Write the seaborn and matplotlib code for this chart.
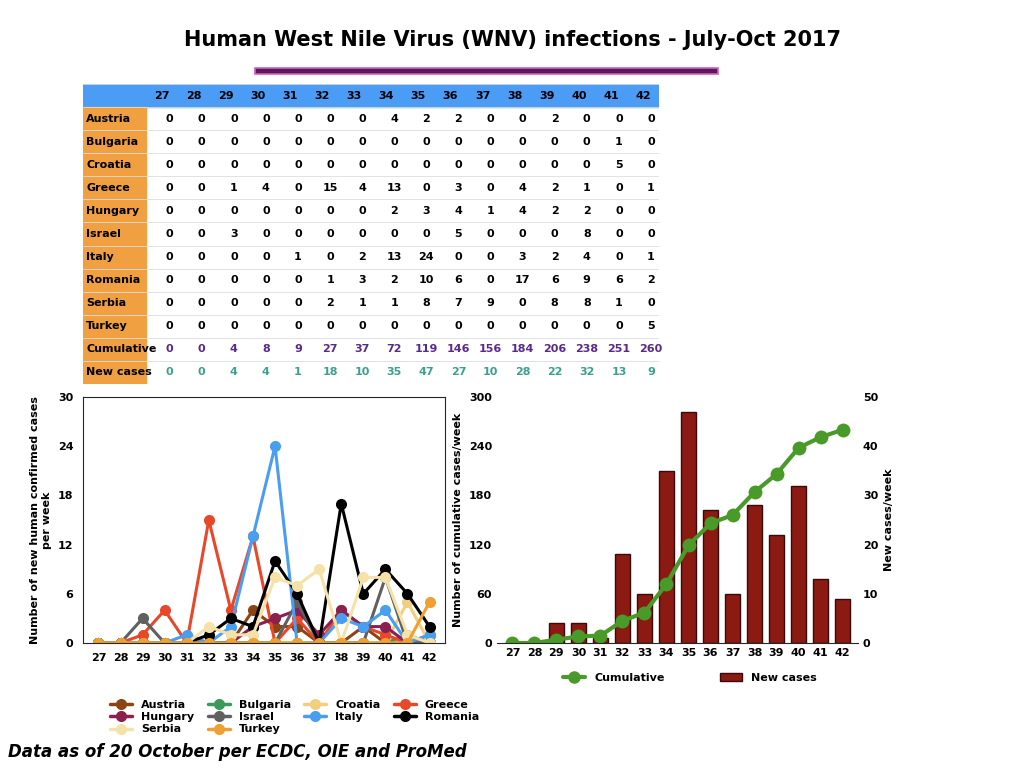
import numpy as np
import pandas as pd
import seaborn as sns
import matplotlib.pyplot as plt
from matplotlib.patches import Rectangle
from matplotlib.lines import Line2D

sns.set_style('white')
plt.rcParams['font.family'] = ['DejaVu Sans']
plt.rcParams['text.color'] = 'black'
plt.rcParams['axes.labelcolor'] = 'black'
plt.rcParams['xtick.color'] = 'black'
plt.rcParams['ytick.color'] = 'black'

weeks = [27, 28, 29, 30, 31, 32, 33, 34, 35, 36, 37, 38, 39, 40, 41, 42]
countries = ['Austria', 'Bulgaria', 'Croatia', 'Greece', 'Hungary', 'Israel',
             'Italy', 'Romania', 'Serbia', 'Turkey']
austria = [0, 0, 0, 0, 0, 0, 0, 4, 2, 2, 0, 0, 2, 0, 0, 0]
bulgaria = [0, 0, 0, 0, 0, 0, 0, 0, 0, 0, 0, 0, 0, 0, 1, 0]
croatia = [0, 0, 0, 0, 0, 0, 0, 0, 0, 0, 0, 0, 0, 0, 5, 0]
greece = [0, 0, 1, 4, 0, 15, 4, 13, 0, 3, 0, 4, 2, 1, 0, 1]
hungary = [0, 0, 0, 0, 0, 0, 0, 2, 3, 4, 1, 4, 2, 2, 0, 0]
israel = [0, 0, 3, 0, 0, 0, 0, 0, 0, 5, 0, 0, 0, 8, 0, 0]
italy = [0, 0, 0, 0, 1, 0, 2, 13, 24, 0, 0, 3, 2, 4, 0, 1]
romania = [0, 0, 0, 0, 0, 1, 3, 2, 10, 6, 0, 17, 6, 9, 6, 2]
serbia = [0, 0, 0, 0, 0, 2, 1, 1, 8, 7, 9, 0, 8, 8, 1, 0]
turkey = [0, 0, 0, 0, 0, 0, 0, 0, 0, 0, 0, 0, 0, 0, 0, 5]
cumulative = [0, 0, 4, 8, 9, 27, 37, 72, 119, 146, 156, 184, 206, 238, 251, 260]
new_cases = [0, 0, 4, 4, 1, 18, 10, 35, 47, 27, 10, 28, 22, 32, 13, 9]

series = [austria, bulgaria, croatia, greece, hungary, israel, italy, romania, serbia, turkey]
colors = {'Austria': '#8B4513', 'Bulgaria': '#3a9a5a', 'Croatia': '#f0d080',
          'Greece': '#e8482a', 'Hungary': '#8b2050', 'Israel': '#606060',
          'Italy': '#4a9ef0', 'Romania': '#000000', 'Serbia': '#f5e2a8',
          'Turkey': '#f0a030'}

fig = plt.figure(figsize=(10.24, 7.68), dpi=100)
W, H = 1024, 768

def ax_px(x0, y0, x1, y1):
    return fig.add_axes([x0 / W, 1 - y1 / H, (x1 - x0) / W, (y1 - y0) / H])

fig.text(0.5, 1 - 40 / H, 'Human West Nile Virus (WNV) infections - July-Oct 2017',
         ha='center', va='center', fontsize=15, fontweight='bold')
fig.patches.append(Rectangle((255 / W, 1 - 74 / H), 463 / W, 6 / H, transform=fig.transFigure,
                             facecolor='#5a1a5a', edgecolor='#d060c0', lw=1.2))

# Table
tax = ax_px(83, 84, 659, 384)
colw = [1.95] + [1.0] * 16
xs = np.concatenate([[0], np.cumsum(colw)])
tax.set_xlim(0, xs[-1])
tax.set_ylim(13, 0)
tax.axis('off')
tax.add_patch(Rectangle((0, 0), xs[-1], 1, color='#4a9cf5'))
tax.add_patch(Rectangle((0, 1), colw[0], 12, color='#f0a040'))
for j, w in enumerate(weeks):
    tax.text((xs[j + 1] + xs[j + 2]) / 2, 0.5, str(w), ha='center', va='center', fontsize=8, fontweight='bold')
rows = list(zip(countries, series)) + [('Cumulative', cumulative), ('New cases', new_cases)]
for i, (name, vals) in enumerate(rows):
    y = i + 1.5
    tax.text(0.1, y, name, ha='left', va='center', fontsize=8, fontweight='bold')
    c = '#5a2a8a' if name == 'Cumulative' else ('#3aa090' if name == 'New cases' else 'black')
    for j, v in enumerate(vals):
        tax.text((xs[j + 1] + xs[j + 2]) / 2 + 0.25, y, str(v), ha='center', va='center',
                 fontsize=8, fontweight='bold', color=c)
for i in range(14):
    tax.axhline(i, color='#dddddd', lw=0.6)

# Left chart
df = pd.DataFrame({'week': np.tile(np.arange(len(weeks)), len(countries)),
                   'country': np.repeat(countries, len(weeks)),
                   'cases': np.concatenate(series)})
ax1 = ax_px(83, 397, 445, 643)
sns.lineplot(data=df, x='week', y='cases', hue='country', palette=colors, marker='o',
             markersize=8, markeredgewidth=0, lw=2.2, ax=ax1, legend=False)
ax1.set_xlim(-0.7, 15.7)
ax1.set_ylim(0, 30)
ax1.set_yticks(range(0, 31, 6))
ax1.set_xticks(range(len(weeks)))
ax1.set_xticklabels(weeks)
ax1.set_xlabel('')
ax1.set_ylabel('Number of new human confirmed cases\nper week', fontsize=8, fontweight='bold')
ax1.tick_params(labelsize=8)
for lab in ax1.get_xticklabels() + ax1.get_yticklabels():
    lab.set_fontweight('bold')
order = ['Austria', 'Hungary', 'Serbia', 'Bulgaria', 'Israel', 'Turkey',
         'Croatia', 'Italy', 'Greece', 'Romania']
handles = [Line2D([], [], color=colors[c], marker='o', lw=2.5, markersize=7) for c in order]
fig.legend(handles, order, loc='upper left', bbox_to_anchor=(100 / W, 1 - 690 / H), ncol=4,
           frameon=False, prop={'weight': 'bold', 'size': 8},
           handlelength=2, columnspacing=1.2, labelspacing=0.2)

# Right chart
df2 = pd.DataFrame({'week': np.arange(len(weeks)), 'cum': cumulative, 'new': new_cases})
ax2 = ax_px(497, 397, 858, 643)
ax3 = ax2.twinx()
sns.barplot(data=df2, x='week', y='new', color='#8b1a12', width=0.7, ax=ax3,
            edgecolor='#3a0a0a', saturation=1)
ax2.set_zorder(ax3.get_zorder() + 1)
ax2.patch.set_visible(False)
sns.lineplot(data=df2, x='week', y='cum', color='#4a9a2a', marker='o', markersize=10,
             markeredgewidth=0, lw=3, ax=ax2)
ax2.set_xlim(-0.7, 15.7)
ax3.set_xlim(-0.7, 15.7)
ax2.set_ylim(0, 300)
ax3.set_ylim(0, 50)
ax2.set_yticks(range(0, 301, 60))
ax3.set_yticks(range(0, 51, 10))
ax2.set_xticks(range(len(weeks)))
ax2.set_xticklabels(weeks)
ax2.set_xlabel('')
ax3.set_xlabel('')
ax2.set_ylabel('Number of cumulative cases/week', fontsize=8, fontweight='bold')
ax3.set_ylabel('New cases/week', fontsize=8, fontweight='bold')
for a in (ax2, ax3):
    a.tick_params(labelsize=8, length=0)
    for lab in a.get_xticklabels() + a.get_yticklabels():
        lab.set_fontweight('bold')
    for s in a.spines.values():
        s.set_visible(False)
ax2.spines['bottom'].set_visible(True)
h2 = [Line2D([], [], color='#4a9a2a', marker='o', lw=3, markersize=8),
      Rectangle((0, 0), 1, 1, facecolor='#8b1a12', edgecolor='#3a0a0a')]
fig.legend(h2, ['Cumulative', 'New cases'], loc='center', bbox_to_anchor=(690 / W, 1 - 678 / H),
           ncol=2, frameon=False, prop={'weight': 'bold', 'size': 8}, columnspacing=5)

fig.text(8 / W, 1 - 752 / H, 'Data as of 20 October per ECDC, OIE and ProMed',
         fontsize=12, fontweight='bold', fontstyle='italic', va='center')

fig.savefig('out.png', dpi=100)
